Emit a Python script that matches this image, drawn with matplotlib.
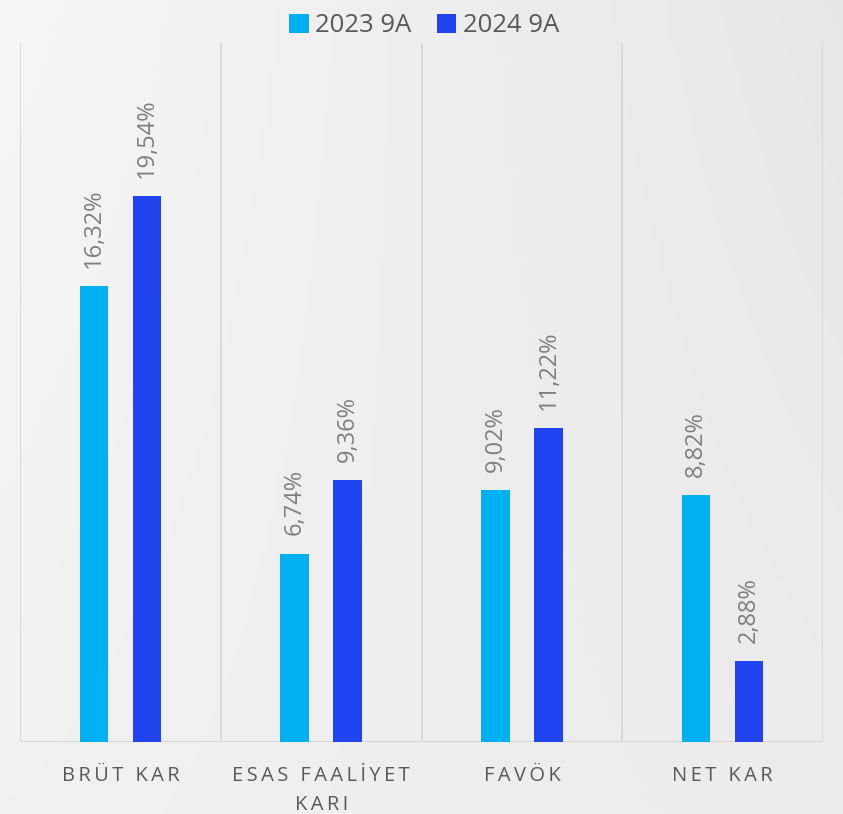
import numpy as np
import matplotlib
matplotlib.use("Agg")
import matplotlib.pyplot as plt

categories = ["BRÜT KAR", "ESAS FAALİYET\nKARI", "FAVÖK", "NET KAR"]
series_names = ["2023 9A", "2024 9A"]
values_2023 = [16.32, 6.74, 9.02, 8.82]
values_2024 = [19.54, 9.36, 11.22, 2.88]
colors = ["#00B0F0", "#1F44F0"]

W, H = 843, 814
fig = plt.figure(figsize=(W / 100, H / 100), dpi=100)

# background gradient
bg = fig.add_axes([0, 0, 1, 1], zorder=-10)
xx, yy = np.meshgrid(np.linspace(0, 1, 200), np.linspace(0, 1, 200))
tl, tr, bl, br = 0.965, 0.905, 0.945, 0.925
g = (tl * (1 - xx) * (1 - yy) + tr * xx * (1 - yy) + bl * (1 - xx) * yy + br * xx * yy)
bg.imshow(np.dstack([g, g, g]), extent=[0, 1, 0, 1], aspect="auto", origin="upper")
bg.set_axis_off()

ax = fig.add_axes([20 / W, (H - 742) / H, (823 - 20) / W, (742 - 43) / H])
ax.patch.set_alpha(0)
n = len(categories)
x = np.arange(n)
bw = 0.142
off = 0.132
ax.bar(x - off, values_2023, width=bw, color=colors[0], label=series_names[0], zorder=3)
ax.bar(x + off, values_2024, width=bw, color=colors[1], label=series_names[1], zorder=3)

ax.set_xlim(-0.5, n - 0.5)
ax.set_ylim(0, 25)
for s in ax.spines.values():
    s.set_visible(False)
for b in np.arange(-0.5, n, 1.0):
    ax.axvline(b, color="#d6d6d6", lw=1.2, zorder=1)
ax.axhline(0, color="#d6d6d6", lw=1.5, zorder=2)
ax.set_yticks([])
ax.set_xticks([])

def fmt(v):
    return ("%.2f" % v).replace(".", ",") + "%"

for xs, vals in ((x - off, values_2023), (x + off, values_2024)):
    for xi, v in zip(xs, vals):
        ax.annotate(fmt(v), (xi, v), xytext=(0, 13), textcoords="offset points",
                    rotation=90, ha="center", va="bottom", fontsize=17,
                    color="#7f7f7f", family=["Open Sans", "DejaVu Sans"])

def spaced(s):
    return "\n".join("\u2009".join(list(line)) for line in s.split("\n"))

for xi, c in zip(x, categories):
    ax.text(xi, -0.035, spaced(c), transform=ax.get_xaxis_transform(), ha="center", va="top",
            fontsize=14.5, color="#595959",
            family=["Open Sans", "DejaVu Sans"], linespacing=1.6)

leg = fig.legend(loc="upper center", bbox_to_anchor=(0.503, 1.012), ncol=2, frameon=False,
                 prop={"family": "Open Sans", "size": 18.5}, handlelength=0.75, handleheight=0.75,
                 handletextpad=0.25, columnspacing=1.0, labelcolor="#595959")

fig.savefig("out.png", dpi=100)
